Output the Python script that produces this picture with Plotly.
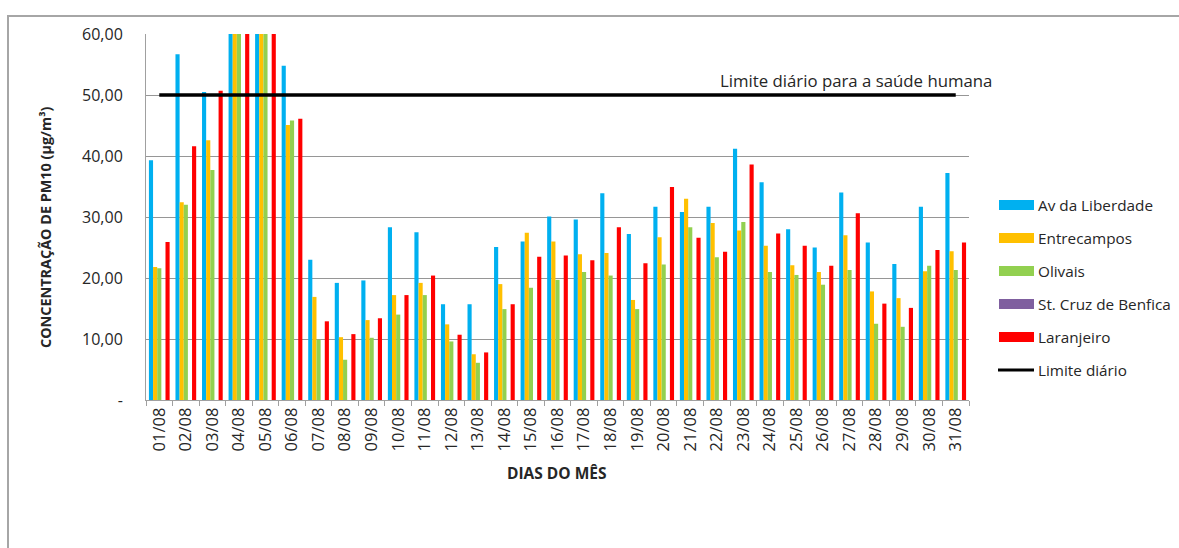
import plotly.graph_objects as go

# Daily PM10 concentrations, August
dias = [f"{d:02d}/08" for d in range(1, 32)]

av_liberdade = [39.3, 56.7, 50.5, 77.0, 72.0, 54.8, 23.0, 19.2, 19.6, 28.3,
                27.5, 15.7, 15.7, 25.1, 26.0, 30.1, 29.6, 33.9, 27.2, 31.7,
                30.8, 31.7, 41.2, 35.7, 28.0, 25.0, 34.0, 25.8, 22.3, 31.7, 37.2]
entrecampos = [21.8, 32.4, 42.6, 69.0, 66.0, 45.1, 16.9, 10.3, 13.1, 17.2,
               19.2, 12.4, 7.5, 19.0, 27.4, 26.0, 23.9, 24.1, 16.4, 26.7,
               33.0, 29.0, 27.8, 25.3, 22.1, 21.0, 27.0, 17.8, 16.7, 21.1, 24.4]
olivais = [21.6, 32.0, 37.7, 64.0, 63.0, 45.8, 9.9, 6.6, 10.2, 14.0,
           17.2, 9.6, 6.1, 14.9, 18.4, 19.7, 21.0, 20.4, 14.9, 22.2,
           28.3, 23.4, 29.2, 21.0, 20.5, 18.9, 21.3, 12.5, 12.0, 22.0, 21.3]
st_cruz_benfica = [None] * 31
laranjeiro = [25.9, 41.6, 50.7, 71.0, 68.0, 46.1, 12.9, 10.8, 13.4, 17.2,
              20.4, 10.7, 7.8, 15.7, 23.5, 23.7, 22.9, 28.3, 22.4, 34.9,
              26.6, 24.3, 38.6, 27.3, 25.3, 22.0, 30.6, 15.8, 15.1, 24.6, 25.8]
limite_diario = [50] * 31

series_names = ["Av da Liberdade", "Entrecampos", "Olivais",
                "St. Cruz de Benfica", "Laranjeiro"]
series_values = [av_liberdade, entrecampos, olivais, st_cruz_benfica, laranjeiro]
series_colors = ["#00B0F0", "#FFC000", "#92D050", "#7F5F9F", "#FF0000"]

y_tickvals = [0, 10, 20, 30, 40, 50, 60]
y_ticktext = ["-", "10,00", "20,00", "30,00", "40,00", "50,00", "60,00"]

W, H = 1179, 548
L, R, T, B = 146, 969, 34, 400  # plot area in pixels
FONT = "Open Sans"
TXT = "#262626"


def px(x):
    return (x - L) / (R - L)


def py(y):
    return (B - y) / (B - T)


fig = go.Figure()
for name, vals, col in zip(series_names, series_values, series_colors):
    fig.add_trace(go.Bar(x=dias, y=vals, name=name, marker_color=col,
                         marker_line_width=0, showlegend=False))

fig.add_trace(go.Scatter(x=dias, y=limite_diario, name="Limite diário",
                         mode="lines", line=dict(color="black", width=3.5),
                         showlegend=False))

shapes = []
annotations = []

# outer frame
shapes.append(dict(type="rect", xref="paper", yref="paper",
                   x0=px(8), x1=px(W + 20), y0=py(H + 20), y1=py(16),
                   line=dict(color="#A6A6A6", width=2), fillcolor="rgba(0,0,0,0)",
                   layer="below"))

# legend
leg_y = [205, 238, 271, 304, 337, 370]
for i, (name, col) in enumerate(zip(series_names, series_colors)):
    shapes.append(dict(type="rect", xref="paper", yref="paper",
                       x0=px(999), x1=px(1034), y0=py(leg_y[i] + 5), y1=py(leg_y[i] - 5),
                       line=dict(width=0), fillcolor=col))
    annotations.append(dict(x=px(1036), y=py(leg_y[i]), xref="paper", yref="paper",
                            text=name, showarrow=False, xanchor="left", yanchor="middle",
                            font=dict(family=FONT, size=15.3, color=TXT)))
shapes.append(dict(type="line", xref="paper", yref="paper",
                   x0=px(998), x1=px(1034), y0=py(leg_y[5]), y1=py(leg_y[5]),
                   line=dict(color="black", width=3)))
annotations.append(dict(x=px(1036), y=py(leg_y[5]), xref="paper", yref="paper",
                        text="Limite diário", showarrow=False, xanchor="left",
                        yanchor="middle", font=dict(family=FONT, size=15.3, color=TXT)))

# limit label
annotations.append(dict(x=px(718), y=py(80), xref="paper", yref="paper",
                        text="Limite diário para a saúde humana", showarrow=False,
                        xanchor="left", yanchor="middle",
                        font=dict(family=FONT, size=16.8, color=TXT)))

# axis titles
annotations.append(dict(x=px(45), y=py(227), xref="paper", yref="paper",
                        text="<b>CONCENTRAÇÃO DE PM10 (µg/m³)</b>", showarrow=False,
                        textangle=-90, xanchor="center", yanchor="middle",
                        font=dict(family=FONT, size=14.4, color=TXT)))
annotations.append(dict(x=px(557), y=py(473), xref="paper", yref="paper",
                        text="<b>DIAS DO MÊS</b>", showarrow=False,
                        xanchor="center", yanchor="middle",
                        font=dict(family=FONT, size=15.5, color=TXT)))

fig.update_layout(
    width=W, height=H,
    margin=dict(l=L, r=W - R, t=T, b=H - B, pad=0),
    paper_bgcolor="white", plot_bgcolor="white",
    barmode="group", bargap=0.22, bargroupgap=0,
    shapes=shapes, annotations=annotations,
    font=dict(family=FONT, size=15, color=TXT),
)
fig.update_xaxes(
    type="category", showgrid=False, showline=True, linecolor="#A0A0A0", linewidth=1,
    ticks="outside", tickson="boundaries", ticklen=5, tickcolor="#A0A0A0",
    tickangle=-90, tickfont=dict(family=FONT, size=16.5, color=TXT),
)
fig.update_yaxes(
    range=[0, 60], tickvals=y_tickvals, ticktext=y_ticktext,
    showgrid=True, gridcolor="#969696", gridwidth=1,
    showline=True, linecolor="#A0A0A0", linewidth=1, ticks="", ticklabelstandoff=19,
    zeroline=False, tickfont=dict(family=FONT, size=16, color=TXT),
)

fig.write_html("out.html")
